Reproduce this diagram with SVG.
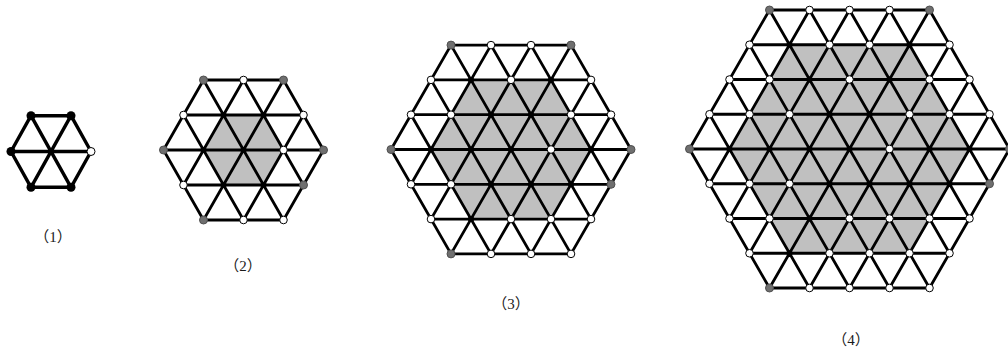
<svg xmlns="http://www.w3.org/2000/svg" width="1008" height="351" viewBox="0 0 1008 351">
<style>
.ln{fill:none;stroke:#000;stroke-width:2.8;stroke-linecap:round;vector-effect:non-scaling-stroke}
.ln1{fill:none;stroke:#000;stroke-width:3.4;stroke-linecap:round;vector-effect:non-scaling-stroke}
.sh{fill:#c0c0c0;stroke:none}
.w{fill:#fff;stroke:#000;stroke-width:1}
.g{fill:#6f6f6f;stroke:#505050;stroke-width:1}
.b{fill:#000}
.lbl{font-family:"Liberation Serif","Noto Sans CJK SC",serif;font-size:15px;fill:#1a1a1a;text-anchor:middle}
</style>
<rect width="1008" height="351" fill="#fff"/>

<g id="fig1">
<g id="fig1-edges" transform="matrix(40 0 20 35.8 51 151.5)">
<path class="ln1" d="M0,-1L1,-1M-1,0L1,0M-1,1L0,1M-1,0L-1,1M0,-1L0,1M1,-1L1,0M0,-1L-1,0M1,-1L-1,1M1,0L0,1"/>
</g>
<g id="fig1-vertices">
<circle class="b" cx="31" cy="115.7" r="4.5"/>
<circle class="b" cx="71" cy="115.7" r="4.5"/>
<circle class="b" cx="11" cy="151.5" r="4.5"/>
<circle class="b" cx="51" cy="151.5" r="2.5"/>
<circle class="w" cx="91" cy="151.5" r="4"/>
<circle class="b" cx="31" cy="187.3" r="4.5"/>
<circle class="b" cx="71" cy="187.3" r="4.5"/>
</g>
<text class="lbl" x="53" y="242">（1）</text>
</g>

<g id="fig2">
<g id="fig2-edges" transform="matrix(40 0 20 35 243.5 150)">
<polygon class="sh" points="0,-1 1,-1 1,0 0,1 -1,1 -1,0"/>
<path class="ln" d="M0,-2L2,-2M-1,-1L2,-1M-2,0L2,0M-2,1L1,1M-2,2L0,2M-2,0L-2,2M-1,-1L-1,2M0,-2L0,2M1,-2L1,1M2,-2L2,0M0,-2L-2,0M1,-2L-2,1M2,-2L-2,2M2,-1L-1,2M2,0L0,2"/>
</g>
<g id="fig2-vertices">
<circle class="g" cx="203.5" cy="80" r="4"/>
<circle class="w" cx="243.5" cy="80" r="3.8"/>
<circle class="g" cx="283.5" cy="80" r="4"/>
<circle class="w" cx="183.5" cy="115" r="3.8"/>
<circle class="b" cx="223.5" cy="115" r="3"/>
<circle class="b" cx="263.5" cy="115" r="3"/>
<circle class="w" cx="303.5" cy="115" r="3.8"/>
<circle class="g" cx="163.5" cy="150" r="4"/>
<circle class="b" cx="203.5" cy="150" r="3"/>
<circle class="b" cx="243.5" cy="150" r="3"/>
<circle class="w" cx="283.5" cy="150" r="3.8"/>
<circle class="g" cx="323.5" cy="150" r="4"/>
<circle class="w" cx="183.5" cy="185" r="3.8"/>
<circle class="b" cx="223.5" cy="185" r="3"/>
<circle class="b" cx="263.5" cy="185" r="3"/>
<circle class="g" cx="303.5" cy="185" r="4"/>
<circle class="g" cx="203.5" cy="220" r="4"/>
<circle class="w" cx="243.5" cy="220" r="3.8"/>
<circle class="w" cx="283.5" cy="220" r="3.8"/>
</g>
<text class="lbl" x="243" y="271">（2）</text>
</g>

<g id="fig3">
<g id="fig3-edges" transform="matrix(40 0 20 34.8 511 149.5)">
<polygon class="sh" points="0,-2 2,-2 2,0 0,2 -2,2 -2,0"/>
<path class="ln" d="M0,-3L3,-3M-1,-2L3,-2M-2,-1L3,-1M-3,0L3,0M-3,1L2,1M-3,2L1,2M-3,3L0,3M-3,0L-3,3M-2,-1L-2,3M-1,-2L-1,3M0,-3L0,3M1,-3L1,2M2,-3L2,1M3,-3L3,0M0,-3L-3,0M1,-3L-3,1M2,-3L-3,2M3,-3L-3,3M3,-2L-2,3M3,-1L-1,3M3,0L0,3"/>
</g>
<g id="fig3-vertices">
<circle class="g" cx="451" cy="45.1" r="4"/>
<circle class="w" cx="491" cy="45.1" r="3.8"/>
<circle class="w" cx="531" cy="45.1" r="3.8"/>
<circle class="g" cx="571" cy="45.1" r="4"/>
<circle class="w" cx="431" cy="79.9" r="3.8"/>
<circle class="b" cx="471" cy="79.9" r="3"/>
<circle class="w" cx="511" cy="79.9" r="3.8"/>
<circle class="b" cx="551" cy="79.9" r="3"/>
<circle class="w" cx="591" cy="79.9" r="3.8"/>
<circle class="w" cx="411" cy="114.7" r="3.8"/>
<circle class="w" cx="451" cy="114.7" r="3.8"/>
<circle class="b" cx="491" cy="114.7" r="3"/>
<circle class="b" cx="531" cy="114.7" r="3"/>
<circle class="w" cx="571" cy="114.7" r="3.8"/>
<circle class="w" cx="611" cy="114.7" r="3.8"/>
<circle class="g" cx="391" cy="149.5" r="4"/>
<circle class="b" cx="431" cy="149.5" r="3"/>
<circle class="b" cx="471" cy="149.5" r="3"/>
<circle class="b" cx="511" cy="149.5" r="3"/>
<circle class="w" cx="551" cy="149.5" r="3.8"/>
<circle class="b" cx="591" cy="149.5" r="3"/>
<circle class="g" cx="631" cy="149.5" r="4"/>
<circle class="w" cx="411" cy="184.3" r="3.8"/>
<circle class="w" cx="451" cy="184.3" r="3.8"/>
<circle class="b" cx="491" cy="184.3" r="3"/>
<circle class="b" cx="531" cy="184.3" r="3"/>
<circle class="b" cx="571" cy="184.3" r="3"/>
<circle class="g" cx="611" cy="184.3" r="4"/>
<circle class="w" cx="431" cy="219.1" r="3.8"/>
<circle class="b" cx="471" cy="219.1" r="3"/>
<circle class="w" cx="511" cy="219.1" r="3.8"/>
<circle class="w" cx="551" cy="219.1" r="3.8"/>
<circle class="w" cx="591" cy="219.1" r="3.8"/>
<circle class="g" cx="451" cy="253.9" r="4"/>
<circle class="w" cx="491" cy="253.9" r="3.8"/>
<circle class="w" cx="531" cy="253.9" r="3.8"/>
<circle class="w" cx="571" cy="253.9" r="3.8"/>
</g>
<text class="lbl" x="511" y="309">（3）</text>
</g>

<g id="fig4">
<g id="fig4-edges" transform="matrix(40 0 20 34.75 849.5 149)">
<polygon class="sh" points="0,-3 3,-3 3,0 0,3 -3,3 -3,0"/>
<path class="ln" d="M0,-4L4,-4M-1,-3L4,-3M-2,-2L4,-2M-3,-1L4,-1M-4,0L4,0M-4,1L3,1M-4,2L2,2M-4,3L1,3M-4,4L0,4M-4,0L-4,4M-3,-1L-3,4M-2,-2L-2,4M-1,-3L-1,4M0,-4L0,4M1,-4L1,3M2,-4L2,2M3,-4L3,1M4,-4L4,0M0,-4L-4,0M1,-4L-4,1M2,-4L-4,2M3,-4L-4,3M4,-4L-4,4M4,-3L-3,4M4,-2L-2,4M4,-1L-1,4M4,0L0,4"/>
</g>
<g id="fig4-vertices">
<circle class="g" cx="769.5" cy="10" r="4"/>
<circle class="w" cx="809.5" cy="10" r="3.8"/>
<circle class="w" cx="849.5" cy="10" r="3.8"/>
<circle class="w" cx="889.5" cy="10" r="3.8"/>
<circle class="g" cx="929.5" cy="10" r="4"/>
<circle class="w" cx="749.5" cy="44.75" r="3.8"/>
<circle class="b" cx="789.5" cy="44.75" r="3"/>
<circle class="w" cx="829.5" cy="44.75" r="3.8"/>
<circle class="w" cx="869.5" cy="44.75" r="3.8"/>
<circle class="b" cx="909.5" cy="44.75" r="3"/>
<circle class="w" cx="949.5" cy="44.75" r="3.8"/>
<circle class="w" cx="729.5" cy="79.5" r="3.8"/>
<circle class="w" cx="769.5" cy="79.5" r="3.8"/>
<circle class="b" cx="809.5" cy="79.5" r="3"/>
<circle class="w" cx="849.5" cy="79.5" r="3.8"/>
<circle class="b" cx="889.5" cy="79.5" r="3"/>
<circle class="w" cx="929.5" cy="79.5" r="3.8"/>
<circle class="w" cx="969.5" cy="79.5" r="3.8"/>
<circle class="w" cx="709.5" cy="114.25" r="3.8"/>
<circle class="w" cx="749.5" cy="114.25" r="3.8"/>
<circle class="w" cx="789.5" cy="114.25" r="3.8"/>
<circle class="b" cx="829.5" cy="114.25" r="3"/>
<circle class="b" cx="869.5" cy="114.25" r="3"/>
<circle class="w" cx="909.5" cy="114.25" r="3.8"/>
<circle class="w" cx="949.5" cy="114.25" r="3.8"/>
<circle class="w" cx="989.5" cy="114.25" r="3.8"/>
<circle class="g" cx="689.5" cy="149" r="4"/>
<circle class="b" cx="729.5" cy="149" r="3"/>
<circle class="b" cx="769.5" cy="149" r="3"/>
<circle class="b" cx="809.5" cy="149" r="3"/>
<circle class="b" cx="849.5" cy="149" r="3"/>
<circle class="w" cx="889.5" cy="149" r="3.8"/>
<circle class="b" cx="929.5" cy="149" r="3"/>
<circle class="b" cx="969.5" cy="149" r="3"/>
<circle class="g" cx="1009.5" cy="149" r="4"/>
<circle class="w" cx="709.5" cy="183.75" r="3.8"/>
<circle class="w" cx="749.5" cy="183.75" r="3.8"/>
<circle class="w" cx="789.5" cy="183.75" r="3.8"/>
<circle class="b" cx="829.5" cy="183.75" r="3"/>
<circle class="b" cx="869.5" cy="183.75" r="3"/>
<circle class="b" cx="909.5" cy="183.75" r="3"/>
<circle class="b" cx="949.5" cy="183.75" r="3"/>
<circle class="g" cx="989.5" cy="183.75" r="4"/>
<circle class="w" cx="729.5" cy="218.5" r="3.8"/>
<circle class="w" cx="769.5" cy="218.5" r="3.8"/>
<circle class="b" cx="809.5" cy="218.5" r="3"/>
<circle class="w" cx="849.5" cy="218.5" r="3.8"/>
<circle class="w" cx="889.5" cy="218.5" r="3.8"/>
<circle class="w" cx="929.5" cy="218.5" r="3.8"/>
<circle class="w" cx="969.5" cy="218.5" r="3.8"/>
<circle class="w" cx="749.5" cy="253.25" r="3.8"/>
<circle class="b" cx="789.5" cy="253.25" r="3"/>
<circle class="w" cx="829.5" cy="253.25" r="3.8"/>
<circle class="w" cx="869.5" cy="253.25" r="3.8"/>
<circle class="w" cx="909.5" cy="253.25" r="3.8"/>
<circle class="w" cx="949.5" cy="253.25" r="3.8"/>
<circle class="g" cx="769.5" cy="288" r="4"/>
<circle class="w" cx="809.5" cy="288" r="3.8"/>
<circle class="w" cx="849.5" cy="288" r="3.8"/>
<circle class="w" cx="889.5" cy="288" r="3.8"/>
<circle class="w" cx="929.5" cy="288" r="3.8"/>
</g>
<text class="lbl" x="851" y="345">（4）</text>
</g>
</svg>
